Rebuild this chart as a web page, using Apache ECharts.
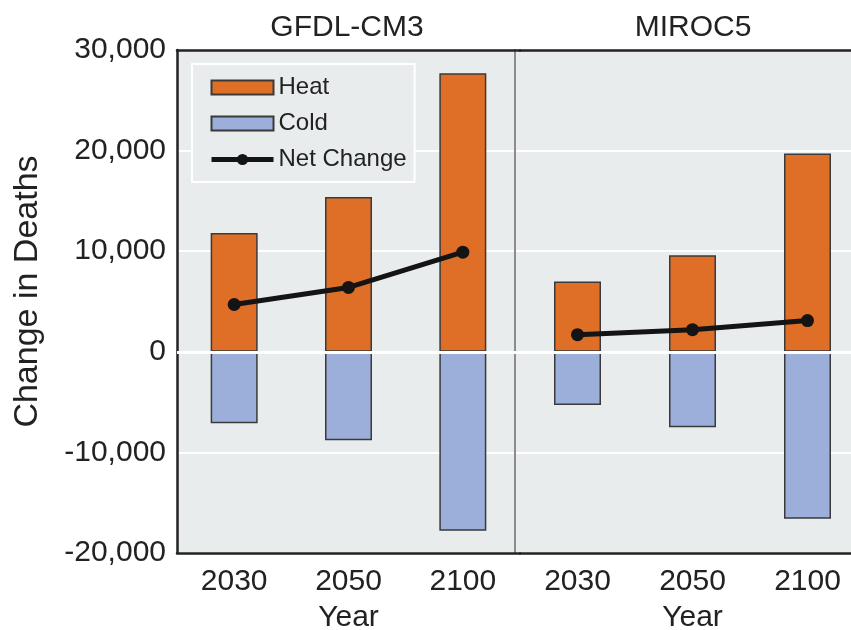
<!DOCTYPE html>
<html>
<head>
<meta charset="utf-8">
<script src="https://cdn.jsdelivr.net/npm/echarts@6/dist/echarts.min.js"></script>
<style>
  html, body { margin: 0; padding: 0; background: #ffffff; }
  #chart { width: 851px; height: 630px; }
</style>
</head>
<body>
<div id="chart"></div>
<script>
// ---- data ----
const years = ['2030', '2050', '2100'];
const panelTitles = ['GFDL-CM3', 'MIROC5'];
const gfdlHeat = [11800, 15400, 27700];
const gfdlCold = [-7100, -8800, -17800];
const gfdlNet = [4700, 6400, 9900];
const mirocHeat = [7000, 9600, 19700];
const mirocCold = [-5300, -7500, -16600];
const mirocNet = [1700, 2200, 3100];
const yTicks = { min: -20000, max: 30000, interval: 10000 };

// ---- styling ----
const FONT = "'Liberation Sans', Arial, sans-serif";
const BG = '#e9ecec';
const HEAT = '#df6e27';
const COLD = '#9cafdb';
const FRAME = '#222222';
const TXT = '#222222';
const NETC = '#141414';

const chart = echarts.init(document.getElementById('chart'), null, { renderer: 'canvas' });

function barSeries(name, data, gi, withZero) {
  const s = {
    name: name, type: 'bar', xAxisIndex: gi, yAxisIndex: gi, stack: 'p' + gi,
    data: data, barWidth: 47,
    itemStyle: { color: name === 'Heat' ? HEAT : COLD, borderColor: '#3a3a3a', borderWidth: 1.5 }
  };
  if (withZero) {
    s.markLine = {
      silent: true, symbol: 'none', label: { show: false },
      lineStyle: { color: '#ffffff', width: 3, type: 'solid' },
      data: [{ yAxis: 0 }]
    };
  }
  return s;
}
function netSeries(data, gi) {
  return {
    name: 'Net Change', type: 'line', xAxisIndex: gi, yAxisIndex: gi, data: data,
    symbol: 'circle', symbolSize: 13, z: 5,
    lineStyle: { color: NETC, width: 5 },
    itemStyle: { color: NETC }
  };
}

const fmt = v => Number(v).toLocaleString('en-US');

const xAxisBottom = gi => ({
  type: 'category', gridIndex: gi, data: years, position: 'bottom',
  axisLine: { onZero: false, lineStyle: { color: FRAME, width: 2.5 } },
  axisTick: { show: false },
  axisLabel: { fontFamily: FONT, fontSize: 30, color: TXT, margin: 14 },
  name: 'Year', nameLocation: 'middle', nameGap: 50,
  nameTextStyle: { fontFamily: FONT, fontSize: 30, color: TXT }
});
const xAxisTop = gi => ({
  type: 'category', gridIndex: gi, data: years, position: 'top',
  axisLine: { onZero: false, lineStyle: { color: FRAME, width: 2.5 } },
  axisTick: { show: false }, axisLabel: { show: false }
});

const option = {
  animation: false,
  backgroundColor: '#ffffff',
  title: [
    { text: panelTitles[0], left: 342, top: 8, textAlign: 'center',
      textStyle: { fontFamily: FONT, fontSize: 30, fontWeight: 'normal', color: TXT } },
    { text: panelTitles[1], left: 688, top: 8, textAlign: 'center',
      textStyle: { fontFamily: FONT, fontSize: 30, fontWeight: 'normal', color: TXT } }
  ],
  legend: {
    orient: 'vertical', left: 192, top: 64,
    backgroundColor: BG, borderColor: '#ffffff', borderWidth: 2,
    padding: [11, 8, 10, 17], itemGap: 11, itemWidth: 62, itemHeight: 14, itemTextGap: 9,
    textStyle: { fontFamily: FONT, fontSize: 24, lineHeight: 25, color: TXT },
    data: [
      { name: 'Heat', icon: 'rect' },
      { name: 'Cold', icon: 'rect' },
      { name: 'Net Change', lineStyle: { width: 5, color: NETC }, itemStyle: { color: NETC } }
    ]
  },
  grid: [
    { left: 177, top: 50, width: 343, height: 503, show: true, backgroundColor: BG, borderWidth: 0,
      outerBoundsMode: 'none', containLabel: false },
    { left: 520, top: 50, width: 345, height: 503, show: true, backgroundColor: BG, borderWidth: 0,
      outerBoundsMode: 'none', containLabel: false }
  ],
  xAxis: [xAxisBottom(0), xAxisBottom(1), xAxisTop(0), xAxisTop(1)],
  yAxis: [
    { type: 'value', gridIndex: 0, min: yTicks.min, max: yTicks.max, interval: yTicks.interval,
      axisLine: { show: true, lineStyle: { color: FRAME, width: 2.5 } },
      axisTick: { show: false },
      splitLine: { show: true, lineStyle: { color: '#ffffff', width: 2 } },
      axisLabel: { fontFamily: FONT, fontSize: 30, color: TXT, margin: 11, formatter: fmt },
      name: 'Change in Deaths', nameLocation: 'middle', nameRotate: 90, nameGap: 132,
      nameTextStyle: { fontFamily: FONT, fontSize: 34, color: TXT, padding: [0, 0, 0, 20] } },
    { type: 'value', gridIndex: 1, min: yTicks.min, max: yTicks.max, interval: yTicks.interval,
      offset: 5,
      axisLine: { show: true, lineStyle: { color: '#8c8c8c', width: 2 } },
      axisTick: { show: false },
      splitLine: { show: true, lineStyle: { color: '#ffffff', width: 2 } },
      axisLabel: { show: false } }
  ],
  series: [
    barSeries('Heat', gfdlHeat, 0, false),
    barSeries('Cold', gfdlCold, 0, true),
    netSeries(gfdlNet, 0),
    barSeries('Heat', mirocHeat, 1, false),
    barSeries('Cold', mirocCold, 1, true),
    netSeries(mirocNet, 1)
  ]
};
chart.setOption(option);
</script>
</body>
</html>
